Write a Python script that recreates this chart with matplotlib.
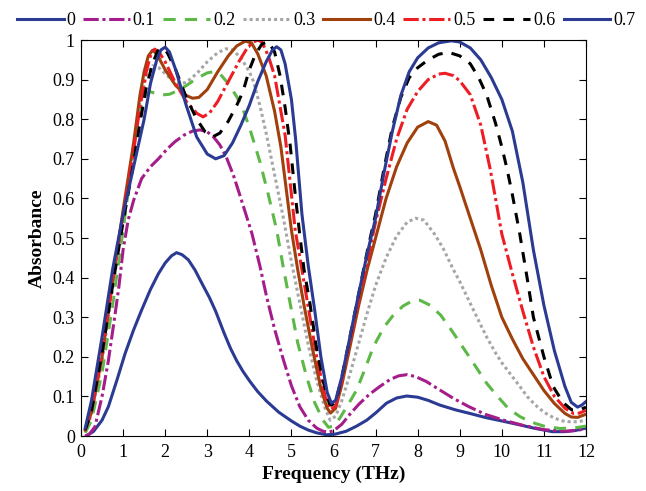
import numpy as np
import matplotlib
matplotlib.use("Agg")
import matplotlib.pyplot as plt

# absorbance vs frequency (THz), one pair of lists per curve
f_00 = [0.13, 0.3, 0.5, 0.65, 0.85, 1.05, 1.25, 1.44, 1.65, 1.84, 2.0, 2.15, 2.27, 2.4,
        2.55, 2.71, 2.9, 3.05, 3.2, 3.4, 3.55, 3.7, 3.85, 4.02, 4.2, 4.41, 4.7, 5.0, 5.2, 5.4, 5.6,
        5.84, 6.05, 6.3, 6.55, 6.79, 7.0, 7.26, 7.5, 7.74, 8.0, 8.25, 8.53, 8.9, 9.24, 9.6,
        10.0, 10.43, 10.8, 11.2, 11.5, 11.75, 12.0]
a_00 = [0.0, 0.012, 0.04, 0.074, 0.14, 0.209, 0.268, 0.318, 0.37, 0.41, 0.437, 0.455, 0.463, 0.458,
        0.445, 0.419, 0.38, 0.35, 0.315, 0.26, 0.222, 0.19, 0.163, 0.137, 0.112, 0.088, 0.06, 0.038, 0.025, 0.015, 0.008,
        0.003, 0.005, 0.012, 0.025, 0.04, 0.058, 0.083, 0.096, 0.101, 0.098, 0.09, 0.078, 0.066, 0.057, 0.047,
        0.038, 0.028, 0.019, 0.011, 0.011, 0.014, 0.02]

f_01 = [0.1, 0.2, 0.33, 0.5, 0.65, 0.8, 0.9, 1.0, 1.12, 1.25, 1.44, 1.65, 1.84, 2.05, 2.23,
        2.45, 2.65, 2.83, 3.0, 3.15, 3.3, 3.45, 3.62, 3.8, 4.06, 4.25, 4.41, 4.6, 4.81, 5.0,
        5.2, 5.4, 5.6, 5.75, 5.88, 6.0, 6.2, 6.39, 6.6, 6.85, 7.1, 7.35, 7.55, 7.75, 7.95,
        8.2, 8.5, 8.85, 9.2, 9.6, 10.04, 10.5, 11.0, 11.5, 11.75, 12.0]
a_01 = [0.0, 0.005, 0.023, 0.1, 0.19, 0.3, 0.377, 0.47, 0.545, 0.595, 0.65, 0.68, 0.70, 0.725, 0.743,
        0.76, 0.77, 0.773, 0.768, 0.755, 0.735, 0.705, 0.659, 0.6, 0.512, 0.43, 0.352, 0.27, 0.192, 0.127,
        0.074, 0.04, 0.02, 0.012, 0.01, 0.013, 0.03, 0.055, 0.08, 0.105, 0.125, 0.143, 0.152, 0.155, 0.15,
        0.138, 0.118, 0.095, 0.075, 0.055, 0.04, 0.027, 0.016, 0.012, 0.014, 0.018]

f_02 = [0.1, 0.25, 0.5, 0.75, 1.0, 1.2, 1.35, 1.5, 1.62, 1.75, 1.9, 2.1, 2.3, 2.5, 2.75,
        3.0, 3.15, 3.3, 3.5, 3.7, 3.85, 4.02, 4.25, 4.45, 4.65, 4.8, 4.97, 5.15, 5.36, 5.55,
        5.75, 5.88, 6.0, 6.15, 6.35, 6.55, 6.75, 6.95, 7.2, 7.42, 7.65, 7.85, 8.05, 8.3, 8.55,
        8.85, 9.1, 9.35, 9.64, 9.9, 10.15, 10.43, 10.7, 11.0, 11.38, 11.7, 12.0]
a_02 = [0.008, 0.04, 0.16, 0.33, 0.52, 0.68, 0.79, 0.855, 0.87, 0.866, 0.861, 0.863, 0.872, 0.885, 0.903,
        0.917, 0.92, 0.915, 0.89, 0.857, 0.825, 0.773, 0.693, 0.61, 0.52, 0.43, 0.335, 0.235, 0.15, 0.085,
        0.04, 0.022, 0.025, 0.045, 0.08, 0.116, 0.17, 0.226, 0.275, 0.305, 0.328, 0.34, 0.343, 0.33, 0.305,
        0.26, 0.22, 0.18, 0.133, 0.1, 0.07, 0.049, 0.035, 0.025, 0.019, 0.02, 0.025]

f_03 = [0.1, 0.25, 0.5, 0.75, 1.0, 1.25, 1.4, 1.55, 1.7, 1.85, 2.0, 2.2, 2.35, 2.5, 2.75,
        3.0, 3.25, 3.45, 3.6, 3.8, 4.0, 4.1, 4.25, 4.41, 4.6, 4.81, 5.0, 5.2, 5.4, 5.6,
        5.8, 5.92, 6.05, 6.2, 6.4, 6.6, 6.8, 7.0, 7.25, 7.5, 7.75, 7.95, 8.15, 8.4, 8.6,
        8.85, 9.0, 9.25, 9.5, 9.64, 9.85, 10.0, 10.25, 10.43, 10.6, 10.8, 11.0, 11.25, 11.45,
        11.62, 11.8, 12.0]
a_03 = [0.012, 0.055, 0.19, 0.37, 0.55, 0.73, 0.84, 0.91, 0.935, 0.93, 0.915, 0.895, 0.89, 0.893, 0.915,
        0.945, 0.968, 0.978, 0.975, 0.955, 0.92, 0.895, 0.835, 0.76, 0.66, 0.55, 0.44, 0.335, 0.23, 0.14,
        0.07, 0.04, 0.05, 0.09, 0.16, 0.235, 0.31, 0.38, 0.45, 0.505, 0.54, 0.55, 0.545, 0.51, 0.475,
        0.42, 0.39, 0.335, 0.28, 0.25, 0.21, 0.185, 0.15, 0.125, 0.1, 0.078, 0.06, 0.045, 0.038,
        0.036, 0.036, 0.04]

f_04 = [0.1, 0.25, 0.5, 0.75, 1.0, 1.25, 1.4, 1.5, 1.6, 1.7, 1.8, 2.0, 2.25, 2.5, 2.65,
        2.8, 3.0, 3.25, 3.5, 3.7, 3.9, 4.05, 4.2, 4.4, 4.6, 4.75, 5.0, 5.15, 5.3, 5.5,
        5.7, 5.85, 5.93, 6.05, 6.2, 6.4, 6.6, 6.8, 7.0, 7.25, 7.5, 7.75, 8.0, 8.25, 8.45,
        8.65, 8.85, 9.0, 9.25, 9.5, 9.75, 10.0, 10.25, 10.5, 10.75, 11.0, 11.25, 11.5, 11.65,
        11.8, 12.0]
a_04 = [0.015, 0.06, 0.2, 0.39, 0.57, 0.74, 0.86, 0.92, 0.96, 0.974, 0.965, 0.925, 0.885, 0.86, 0.853,
        0.855, 0.875, 0.92, 0.96, 0.985, 0.997, 0.993, 0.965, 0.91, 0.82, 0.73, 0.52, 0.42, 0.33, 0.22,
        0.12, 0.07, 0.058, 0.07, 0.13, 0.23, 0.33, 0.42, 0.5, 0.6, 0.68, 0.74, 0.78, 0.794, 0.785,
        0.745, 0.676, 0.63, 0.55, 0.47, 0.38, 0.30, 0.245, 0.195, 0.155, 0.115, 0.082, 0.057, 0.048,
        0.047, 0.055]

f_05 = [0.1, 0.25, 0.5, 0.75, 1.0, 1.25, 1.4, 1.55, 1.65, 1.75, 1.85, 2.0, 2.25, 2.5, 2.75,
        2.9, 3.05, 3.25, 3.5, 3.75, 3.95, 4.1, 4.2, 4.3, 4.45, 4.6, 4.85, 5.09, 5.25, 5.4,
        5.6, 5.8, 5.93, 6.05, 6.2, 6.4, 6.6, 6.8, 7.0, 7.25, 7.5, 7.75, 8.0, 8.25, 8.5,
        8.65, 8.85, 9.0, 9.25, 9.5, 9.72, 9.85, 10.0, 10.25, 10.5, 10.75, 11.0, 11.25, 11.5,
        11.7, 11.85, 12.0]
a_05 = [0.015, 0.065, 0.21, 0.39, 0.56, 0.72, 0.83, 0.92, 0.96, 0.977, 0.97, 0.945, 0.89, 0.845, 0.815,
        0.806, 0.815, 0.845, 0.895, 0.945, 0.98, 0.995, 1.0, 0.995, 0.96, 0.91, 0.76, 0.52, 0.42, 0.325,
        0.2, 0.1, 0.067, 0.075, 0.14, 0.245, 0.345, 0.44, 0.54, 0.65, 0.75, 0.825, 0.87, 0.9, 0.914,
        0.916, 0.91, 0.897, 0.862, 0.785, 0.676, 0.6, 0.51, 0.41, 0.315, 0.225, 0.15, 0.1, 0.07,
        0.057, 0.058, 0.065]

f_06 = [0.1, 0.25, 0.5, 0.75, 1.0, 1.25, 1.4, 1.55, 1.7, 1.82, 1.93, 2.05, 2.25, 2.5, 2.75,
        2.95, 3.14, 3.3, 3.5, 3.7, 3.85, 4.0, 4.15, 4.3, 4.45, 4.6, 4.73, 4.85, 4.97, 5.1,
        5.19, 5.3, 5.44, 5.6, 5.75, 5.9, 5.95, 6.05, 6.2, 6.4, 6.6, 6.8, 7.0, 7.2, 7.4,
        7.6, 7.8, 8.0, 8.25, 8.5, 8.73, 9.0, 9.25, 9.45, 9.64, 9.85, 10.0, 10.12, 10.25, 10.43,
        10.6, 10.75, 11.0, 11.22, 11.45, 11.66, 11.85, 12.0]
a_06 = [0.015, 0.065, 0.21, 0.38, 0.54, 0.69, 0.79, 0.88, 0.94, 0.972, 0.98, 0.968, 0.925, 0.855, 0.8,
        0.768, 0.756, 0.765, 0.795, 0.835, 0.87, 0.925, 0.965, 0.99, 0.996, 0.97, 0.91, 0.83, 0.735, 0.6,
        0.516, 0.42, 0.335, 0.22, 0.14, 0.082, 0.078, 0.085, 0.15, 0.255, 0.36, 0.465, 0.56, 0.675, 0.78,
        0.855, 0.905, 0.93, 0.95, 0.964, 0.969, 0.96, 0.94, 0.905, 0.861, 0.79, 0.73, 0.676, 0.61, 0.508,
        0.4, 0.3, 0.2, 0.125, 0.085, 0.066, 0.066, 0.073]

f_07 = [0.1, 0.25, 0.5, 0.75, 1.0, 1.25, 1.5, 1.65, 1.8, 1.9, 2.0, 2.1, 2.25, 2.5, 2.75,
        3.0, 3.2, 3.4, 3.6, 3.8, 4.0, 4.2, 4.4, 4.55, 4.65, 4.75, 4.85, 5.0, 5.1, 5.25,
        5.4, 5.55, 5.7, 5.85, 5.95, 6.05, 6.2, 6.4, 6.6, 6.8, 7.0, 7.2, 7.4, 7.6, 7.8,
        8.0, 8.25, 8.5, 8.8, 9.0, 9.25, 9.5, 9.75, 10.0, 10.25, 10.5, 10.75, 11.0, 11.25, 11.5,
        11.65, 11.8, 11.9, 12.0]
a_07 = [0.02, 0.09, 0.25, 0.42, 0.56, 0.68, 0.8, 0.89, 0.95, 0.975, 0.982, 0.97, 0.925, 0.835, 0.755,
        0.712, 0.70, 0.708, 0.74, 0.785, 0.835, 0.895, 0.945, 0.975, 0.983, 0.975, 0.94, 0.85, 0.75, 0.56,
        0.43, 0.32, 0.2, 0.11, 0.083, 0.09, 0.15, 0.255, 0.36, 0.46, 0.55, 0.665, 0.77, 0.86, 0.92,
        0.955, 0.98, 0.993, 0.998, 0.995, 0.98, 0.95, 0.905, 0.85, 0.77, 0.64, 0.47, 0.33, 0.215, 0.125,
        0.085, 0.073, 0.078, 0.087]

labels = ["0", "0.1", "0.2", "0.3", "0.4", "0.5", "0.6", "0.7"]
freqs = [f_00, f_01, f_02, f_03, f_04, f_05, f_06, f_07]
series = [a_00, a_01, a_02, a_03, a_04, a_05, a_06, a_07]
colors = ["#2b3a92", "#a51d8a", "#5db848", "#a6a6a6", "#a0400c", "#ee1d24", "#000000", "#2b3a92"]
styles = ["-", (0, (5, 1.2, 1, 1.2)), (0, (4, 3)), (0, (1, 1)), "-",
          (0, (5, 1.2, 1, 1.2)), (0, (3.5, 3)), "-"]

plt.rcParams["font.family"] = ["Liberation Serif", "DejaVu Serif"]

fig = plt.figure(figsize=(6.46, 4.91), dpi=100)
ax = fig.add_axes([0.1254, 0.112, 0.7817, 0.8065])

for x, y, lab, c, ls in zip(freqs, series, labels, colors, styles):
    ax.plot(x, y, color=c, linestyle=ls, linewidth=2.2, label=lab)

ax.set_xlim(0, 12)
ax.set_ylim(0, 1)
ax.set_xticks(np.arange(0, 13, 1))
ax.set_yticks(np.arange(0, 1.01, 0.1))
ax.set_yticklabels(["0", "0.1", "0.2", "0.3", "0.4", "0.5", "0.6", "0.7", "0.8", "0.9", "1"])
ax.tick_params(direction="in", top=True, right=True, length=5, width=0.8, labelsize=13)
ax.tick_params(axis="x", pad=6)
ax.tick_params(axis="y", pad=4.5)
for sp in ax.spines.values():
    sp.set_linewidth(0.8)

ax.set_xlabel("Frequency (THz)", fontsize=14, fontweight="bold", labelpad=3)
ax.set_ylabel("Absorbance", fontsize=14, fontweight="bold", labelpad=5)

ax.legend(loc="lower center", bbox_to_anchor=(0.485, 1.005), ncol=8, frameon=False,
          fontsize=13, handlelength=2.6, handletextpad=0.15, columnspacing=0.45,
          borderaxespad=0.1)

fig.savefig("out.png", dpi=100)
